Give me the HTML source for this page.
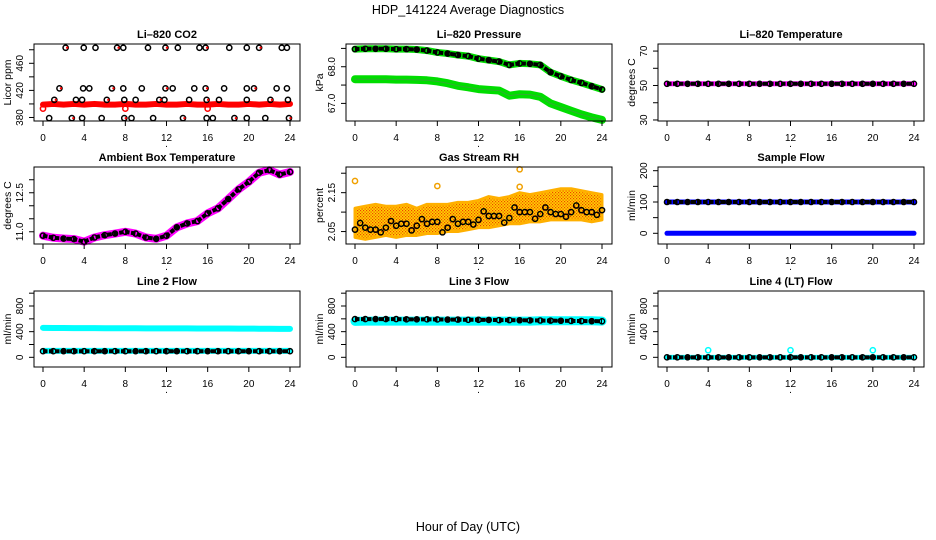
<!DOCTYPE html>
<html><head><meta charset="utf-8"><style>
html,body{margin:0;padding:0;background:#fff;}
svg{display:block;font-family:"Liberation Sans",sans-serif;}
</style></head><body>
<svg id="chart" width="936" height="540" viewBox="0 0 936 540" xmlns="http://www.w3.org/2000/svg">
<defs>
<pattern id="rhpat" width="3" height="3" patternUnits="userSpaceOnUse">
<rect width="3" height="3" fill="#ffd400"/><rect x="0" y="0" width="1.2" height="1.2" fill="#f04000"/><rect x="1.5" y="1.5" width="1.2" height="1.2" fill="#f04000"/>
</pattern>
</defs>
<text x="468" y="14" text-anchor="middle" font-size="12.5">HDP_141224  Average Diagnostics</text>
<text x="468" y="531" text-anchor="middle" font-size="12.5">Hour of Day (UTC)</text>
</svg>
<script>
// ---- data (hour of day) ----
const hours = [0,1,2,3,4,5,6,7,8,9,10,11,12,13,14,15,16,17,18,19,20,21,22,23,24];
const xTicks = [0,4,8,12,16,20,24];
// CO2
const co2Red = [399,400,399,400,399,400,399,399,400,399,399,400,399,399,400,399,399,400,399,399,400,399,400,399,400];
const co2PtHours = [2.2,3.96,5.1,7.2,7.8,10.2,11.9,13.1,15.2,15.8,18.1,19.8,21.0,23.2,23.7,
 1.6,3.9,4.5,6.7,7.8,9.6,11.9,12.6,14.7,15.8,17.6,19.8,20.5,22.7,23.7,
 1.1,3.2,3.8,6.2,7.9,9.0,11.3,11.8,14.2,15.9,17.1,19.8,22.1,23.8,
 0.6,2.8,3.8,5.7,7.9,8.6,10.7,13.6,15.9,16.5,18.6,19.8,21.6,23.9];
const co2PtVals = [483,483,483,483,483,483,483,483,483,483,483,483,483,483,483,
 423,423,423,423,423,423,423,423,423,423,423,423,423,423,423,
 406,406,406,406,406,406,406,406,406,406,406,406,406,406,
 379,379,379,379,379,379,379,379,379,379,379,379,379,379];
const co2RedOutHours = [0,8,16];
const co2RedOutVals = [393,393,393];
// Pressure
const presUpper = [68.48,68.49,68.49,68.49,68.48,68.48,68.47,68.44,68.39,68.36,68.32,68.29,68.22,68.18,68.14,68.05,68.09,68.08,68.05,67.85,67.74,67.64,67.56,67.47,67.38];
const presLower = [67.66,67.66,67.66,67.66,67.65,67.65,67.64,67.63,67.6,67.55,67.48,67.44,67.39,67.37,67.35,67.21,67.25,67.24,67.18,67.0,66.9,66.8,66.7,66.62,66.55];
// Li-820 temperature
const liTemp = [51,51,51,51,51,51,51,51,51,51,51,51,51,51,51,51,51,51,51,51,51,51,51,51,51];
// Ambient box temperature
const ambTemp = [10.85,10.77,10.74,10.72,10.62,10.78,10.87,10.93,11.0,10.93,10.78,10.73,10.85,11.17,11.32,11.41,11.71,11.9,12.26,12.63,12.92,13.27,13.37,13.2,13.3];
// Gas stream RH
const rhLow = [2.035,2.03,2.035,2.04,2.035,2.04,2.04,2.045,2.045,2.05,2.05,2.055,2.06,2.06,2.065,2.07,2.07,2.075,2.075,2.08,2.08,2.08,2.08,2.075,2.08];
const rhHigh = [2.11,2.115,2.12,2.115,2.115,2.12,2.11,2.12,2.12,2.12,2.125,2.125,2.13,2.14,2.135,2.14,2.15,2.145,2.15,2.155,2.16,2.16,2.155,2.15,2.145];
const rhBlack = [2.055,2.06,2.055,2.06,2.065,2.07,2.065,2.07,2.075,2.06,2.07,2.075,2.08,2.09,2.09,2.085,2.1,2.1,2.095,2.1,2.095,2.1,2.105,2.1,2.105];
const rhOutHours = [0,8,16,16];
const rhOutVals = [2.18,2.167,2.21,2.165];
// Sample flow
const sampleLow = [0,0,0,0,0,0,0,0,0,0,0,0,0,0,0,0,0,0,0,0,0,0,0,0,0];
const sampleHigh = [100,100,100,100,100,100,100,100,100,100,100,100,100,100,100,100,100,100,100,100,100,100,100,100,100];
// Line 2 flow
const l2Upper = [460,458,457,456,455,455,454,454,453,453,452,452,452,451,451,450,450,449,449,448,447,446,445,444,443];
const l2Lower = [100,100,100,100,100,100,100,100,100,100,100,100,100,100,100,100,100,100,100,100,100,100,100,100,100];
const l2Black = [95,95,95,95,95,95,95,95,95,95,95,95,95,95,95,95,95,95,95,95,95,95,95,95,95];
// Line 3 flow
const l3Cyan = [560,565,565,565,565,565,565,565,565,565,565,565,565,565,565,565,565,565,570,570,570,570,570,570,565];
const l3Black = [596,596,596,596,596,592,592,592,590,588,588,585,585,583,580,580,578,576,574,572,570,568,566,564,562];
// Line 4 flow
const l4Cyan = [0,0,0,0,0,0,0,0,0,0,0,0,0,0,0,0,0,0,0,0,0,0,0,0,0];
const l4Black = [0,0,0,0,0,0,0,0,0,0,0,0,0,0,0,0,0,0,0,0,0,0,0,0,0];
const l4SpikeHours = [4,12,20];
const l4SpikeVals = [110,110,110];

// ---- drawing ----
const NS = "http://www.w3.org/2000/svg";
const svg = document.getElementById('chart');
function mk(tag, attrs, parent) {
  const e = document.createElementNS(NS, tag);
  for (const k in attrs) e.setAttribute(k, attrs[k]);
  (parent || svg).appendChild(e);
  return e;
}
const rowTop = [44, 167, 291], rowBot = [121, 244, 367];

function panel(c, r, title, ylab, ymin, ymax, ticks, labels, key) {
  const g = mk('g', {});
  
  
  const off = c * 312;
  const bx0 = 34 + off, bx1 = 300 + off, by0 = rowTop[r], by1 = rowBot[r];
  const X = h => 43 + off + h / 24 * 247;
  const Y = v => by1 - (v - ymin) / (ymax - ymin) * (by1 - by0);
  const plot = mk('g', {}, g);
  
  
  const box = mk('rect', {x: bx0, y: by0, width: bx1 - bx0, height: by1 - by0, fill: 'none', stroke: '#000', 'stroke-width': 1}, g);
  
  
  const t = mk('text', {x: (bx0 + bx1) / 2, y: by0 - 6, 'text-anchor': 'middle', 'font-size': 11, 'font-weight': 'bold'}, g);
  t.textContent = title;
  
  
  const yl = mk('text', {x: 0, y: 0, 'text-anchor': 'middle', 'font-size': 10.5, transform: `translate(${11 + off},${(by0 + by1) / 2}) rotate(-90)`}, g);
  yl.textContent = ylab;
  
  
  xTicks.forEach(h => {
    mk('line', {x1: X(h), x2: X(h), y1: by1, y2: by1 + 5, stroke: '#000'}, g);
    const tx = mk('text', {x: X(h), y: by1 + 20, 'text-anchor': 'middle', 'font-size': 10}, g);
    tx.textContent = h;
    
    
  });
  const dot = mk('text', {x: X(12), y: by1 + 26, 'text-anchor': 'middle', 'font-size': 10}, g);
  dot.textContent = '.';
  
  
  ticks.forEach((v, i) => {
    mk('line', {x1: bx0 - 5, x2: bx0, y1: Y(v), y2: Y(v), stroke: '#000'}, g);
    if (labels[i] !== '') {
      const ty = mk('text', {x: 0, y: 0, 'text-anchor': 'middle', 'font-size': 10, transform: `translate(${19 + off + 4},${Y(v)}) rotate(-90)`}, g);
      ty.textContent = labels[i];
      
      
    }
  });
  return {X, Y, g: plot};
}
function band(p, xs, ys, color, w, name) {
  const pts = xs.map((h, i) => p.X(h) + ',' + p.Y(ys[i])).join(' ');
  const e = mk('polyline', {points: pts, fill: 'none', stroke: color, 'stroke-width': w, 'stroke-linejoin': 'round', 'stroke-linecap': 'round'}, p.g);
  
  
}
function chain(p, xs, ys, name) {
  const pts = xs.map((h, i) => p.X(h) + ',' + p.Y(ys[i])).join(' ');
  const e = mk('polyline', {points: pts, fill: 'none', stroke: '#000', 'stroke-width': 4, 'stroke-dasharray': '4.5 1.5'}, p.g);
  
  
  xs.forEach((h, i) => {
    const c = mk('circle', {cx: p.X(h), cy: p.Y(ys[i]), r: 2.6, fill: 'none', stroke: '#000', 'stroke-width': 1.4}, p.g);
    
    
  });
}
function pts(p, xs, ys, color, name, r) {
  xs.forEach((h, i) => {
    const c = mk('circle', {cx: p.X(h), cy: p.Y(ys[i]), r: r || 2.6, fill: 'none', stroke: color, 'stroke-width': 1.5}, p.g);
    
    
  });
}

// Panel 1: CO2
let p = panel(0, 0, 'Li\u2013820 CO2', 'Licor ppm', 374.8, 488.5, [380,400,420,440,460,480], ['380','','420','','460',''], 'co2');
band(p, hours, co2Red, '#ff0000', 6, 'co2-red-series');
pts(p, co2RedOutHours, co2RedOutVals, '#ff0000', 'co2-red-point');
pts(p, co2PtHours, co2PtVals, '#000', 'co2-black-point');
co2PtHours.forEach((h, i) => { if (i % 3 === 0) { const c = mk('circle', {cx: p.X(h) + 1.5, cy: p.Y(co2PtVals[i]), r: 1.2, fill: '#ff0000'}, p.g);   } });

// Panel 2: Pressure
p = panel(1, 0, 'Li\u2013820 Pressure', 'kPa', 66.52, 68.62, [67.0,67.5,68.0,68.5], ['67.0','','68.0',''], 'pressure');
band(p, hours, presUpper, '#00dd00', 7, 'pressure-upper-band');
band(p, hours, presLower, '#00dd00', 8, 'pressure-lower-band');
band(p, hours, presLower, '#33aa33', 1, 'pressure-lower-texture');
chain(p, hours, presUpper, 'pressure-black-series');

// Panel 3: Li-820 Temperature
p = panel(2, 0, 'Li\u2013820 Temperature', 'degrees C', 29.4, 74.1, [30,40,50,60,70], ['30','','50','','70'], 'li-temp');
band(p, hours, liTemp, '#ff00ff', 5, 'li-temp-magenta-band');
chain(p, hours, liTemp, 'li-temp-black-series');

// Panel 4: Ambient box temperature
p = panel(0, 1, 'Ambient Box Temperature', 'degrees C', 10.53, 13.49, [11.0,11.5,12.0,12.5,13.0], ['11.0','','','12.5',''], 'ambient');
band(p, hours, ambTemp, '#ff00ff', 8, 'ambient-magenta-band');
chain(p, hours, ambTemp, 'ambient-black-series');

// Panel 5: Gas stream RH
p = panel(1, 1, 'Gas Stream RH', 'percent', 2.018, 2.216, [2.05,2.10,2.15,2.20], ['2.05','','2.15',''], 'rh');
{
  const top = hours.map((h, i) => p.X(h) + ',' + p.Y(rhHigh[i]));
  const bot = hours.map((h, i) => p.X(h) + ',' + p.Y(rhLow[i])).reverse();
  const e = mk('polygon', {points: top.concat(bot).join(' '), fill: 'url(#rhpat)', stroke: '#ffb000', 'stroke-width': 3, 'stroke-linejoin': 'round'}, p.g);
  
  
}
pts(p, rhOutHours, rhOutVals, '#f0a000', 'rh-orange-outlier');
pts(p, hours, rhBlack, '#000', 'rh-black-point');
pts(p, hours.map(h => h + 0.5).slice(0, 24), rhBlack.slice(1).map((v, i) => v - 0.012 * ((i % 3) - 1)), '#000', 'rh-black-point');

// Panel 6: Sample flow
p = panel(2, 1, 'Sample Flow', 'ml/min', -34.2, 211.8, [0,50,100,150,200], ['0','','100','','200'], 'sample-flow');
band(p, hours, sampleLow, '#0000ff', 5, 'sample-flow-low-band');
band(p, hours, sampleHigh, '#0000ff', 5, 'sample-flow-high-band');
chain(p, hours, sampleHigh, 'sample-flow-black-series');

// Panel 7: Line 2 flow
p = panel(0, 2, 'Line 2 Flow', 'ml/min', -151, 1034, [0,200,400,600,800,1000], ['0','','400','','800',''], 'line2');
band(p, hours, l2Upper, '#00ffff', 6, 'line2-cyan-upper');
band(p, hours, l2Lower, '#00ffff', 6, 'line2-cyan-lower');
chain(p, hours, l2Black, 'line2-black-series');

// Panel 8: Line 3 flow
p = panel(1, 2, 'Line 3 Flow', 'ml/min', -151, 1034, [0,200,400,600,800,1000], ['0','','400','','800',''], 'line3');
band(p, hours, l3Cyan, '#00ffff', 9, 'line3-cyan-band');
chain(p, hours, l3Black, 'line3-black-series');

// Panel 9: Line 4 flow
p = panel(2, 2, 'Line 4 (LT) Flow', 'ml/min', -151, 1034, [0,200,400,600,800,1000], ['0','','400','','800',''], 'line4');
band(p, hours, l4Cyan, '#00ffff', 5, 'line4-cyan-band');
pts(p, l4SpikeHours, l4SpikeVals, '#00ffff', 'line4-cyan-spike');
chain(p, hours, l4Black, 'line4-black-series');
</script>
</body></html>
